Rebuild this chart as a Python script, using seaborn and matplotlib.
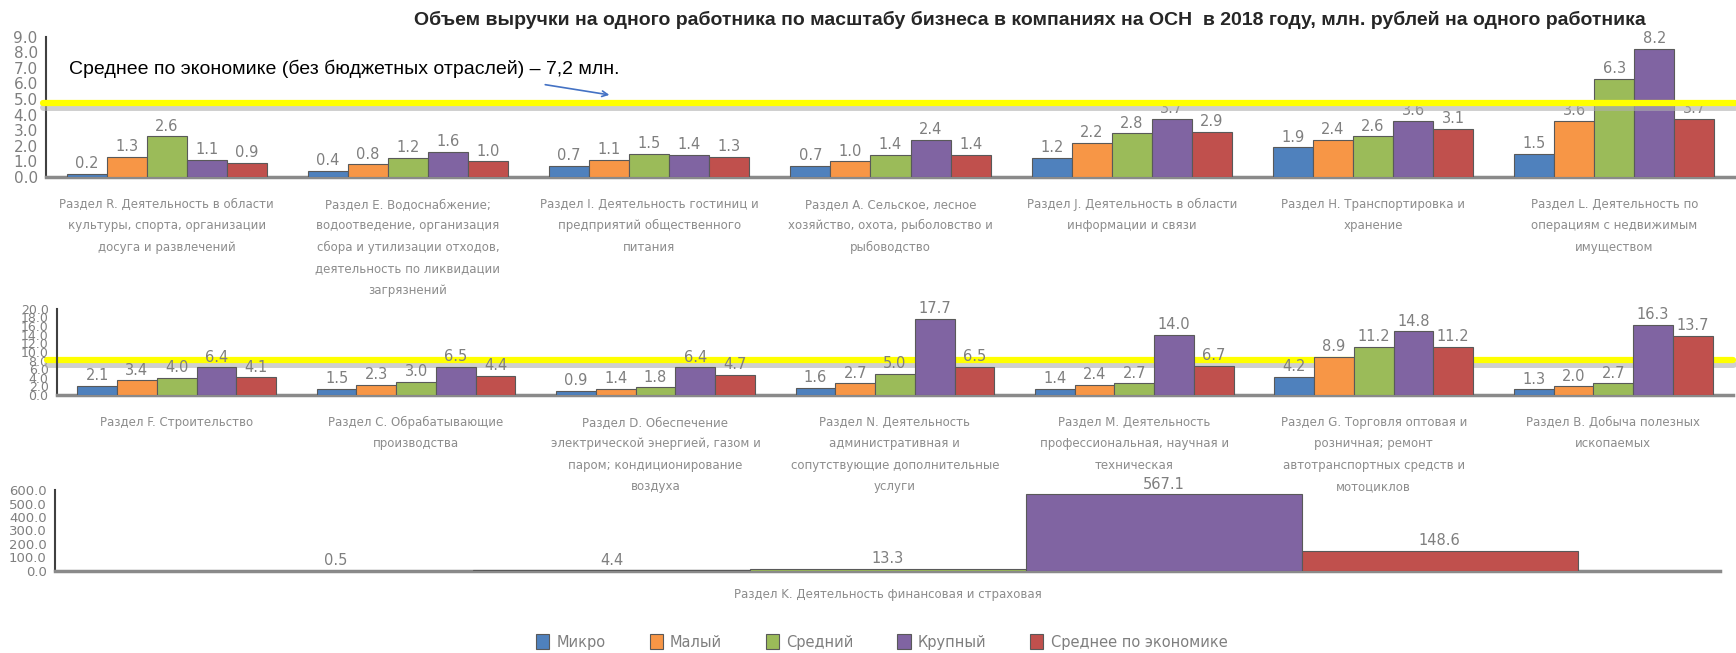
import pandas as pd
import seaborn as sns
import matplotlib.pyplot as plt

sizes = ["Микро", "Малый", "Средний", "Крупный", "Среднее по экономике"]
colors = ["#4F81BD", "#F79646", "#9BBB59", "#8064A2", "#C0504D"]

top_cats = [
    "Раздел R. Деятельность в области\nкультуры, спорта, организации\nдосуга и развлечений",
    "Раздел E. Водоснабжение;\nводоотведение, организация\nсбора и утилизации отходов,\nдеятельность по ликвидации\nзагрязнений",
    "Раздел I. Деятельность гостиниц и\nпредприятий общественного\nпитания",
    "Раздел A. Сельское, лесное\nхозяйство, охота, рыболовство и\nрыбоводство",
    "Раздел J. Деятельность в области\nинформации и связи",
    "Раздел H. Транспортировка и\nхранение",
    "Раздел L. Деятельность по\nоперациям с недвижимым\nимуществом",
]
top_micro = [0.2, 0.4, 0.7, 0.7, 1.2, 1.9, 1.5]
top_small = [1.3, 0.8, 1.1, 1.0, 2.2, 2.4, 3.6]
top_mid = [2.6, 1.2, 1.5, 1.4, 2.8, 2.6, 6.3]
top_large = [1.1, 1.6, 1.4, 2.4, 3.7, 3.6, 8.2]
top_avg = [0.9, 1.0, 1.3, 1.4, 2.9, 3.1, 3.7]

mid_cats = [
    "Раздел F. Строительство",
    "Раздел C. Обрабатывающие\nпроизводства",
    "Раздел D. Обеспечение\nэлектрической энергией, газом и\nпаром; кондиционирование\nвоздуха",
    "Раздел N. Деятельность\nадминистративная и\nсопутствующие дополнительные\nуслуги",
    "Раздел M. Деятельность\nпрофессиональная, научная и\nтехническая",
    "Раздел G. Торговля оптовая и\nрозничная; ремонт\nавтотранспортных средств и\nмотоциклов",
    "Раздел B. Добыча полезных\nископаемых",
]
mid_micro = [2.1, 1.5, 0.9, 1.6, 1.4, 4.2, 1.3]
mid_small = [3.4, 2.3, 1.4, 2.7, 2.4, 8.9, 2.0]
mid_mid = [4.0, 3.0, 1.8, 5.0, 2.7, 11.2, 2.7]
mid_large = [6.4, 6.5, 6.4, 17.7, 14.0, 14.8, 16.3]
mid_avg = [4.1, 4.4, 4.7, 6.5, 6.7, 11.2, 13.7]

fin_cats = ["Раздел K. Деятельность финансовая и страховая"]
fin_micro = [0.5]
fin_small = [4.4]
fin_mid = [13.3]
fin_large = [567.1]
fin_avg = [148.6]

GRAY = "#7f7f7f"
LABEL_GRAY = "#8c8c8c"


def long_table(cats, *series):
    rows = []
    for size, vals in zip(sizes, series):
        for c, v in zip(cats, vals):
            rows.append({"cat": c, "size": size, "val": v})
    return pd.DataFrame(rows)


def draw_panel(ax, df, ymax, ystep, ytick_size, width=0.83, label_pad=15, legend=False):
    sns.barplot(data=df, x="cat", y="val", hue="size", hue_order=sizes,
                palette=colors, width=width, gap=0, edgecolor="#595959",
                linewidth=0.8, saturation=1, legend=legend, ax=ax, zorder=3)
    for cont in ax.containers:
        ax.bar_label(cont, fmt="%.1f", padding=2, fontsize=10.5, color=GRAY)
    n = df["cat"].nunique()
    ax.set_xlim(-0.5, n - 0.5)
    ax.set_ylim(0, ymax)
    ax.set_yticks([i * ystep for i in range(int(round(ymax / ystep)) + 1)])
    ax.yaxis.set_major_formatter(plt.FormatStrFormatter("%.1f"))
    ax.tick_params(axis="y", labelsize=ytick_size, labelcolor=GRAY, color="#404040",
                   length=5, width=1.5, pad=1)
    ax.tick_params(axis="x", length=0, labelsize=8.5, labelcolor=LABEL_GRAY, pad=label_pad)
    ax.set_xticks([i + 0.5 for i in range(n)], minor=True)
    ax.tick_params(axis="x", which="minor", length=7, width=1.5, color="#404040")
    for lab in ax.get_xticklabels():
        lab.set_linespacing(1.85)
    ax.set_xlabel("")
    ax.set_ylabel("")
    sns.despine(ax=ax)
    ax.spines["left"].set_color("#404040")
    ax.spines["left"].set_linewidth(1.5)
    ax.spines["bottom"].set_color("#8a8a8a")
    ax.spines["bottom"].set_linewidth(2.5)
    ax.set_facecolor("none")


sns.set_style("white")
plt.rcParams["font.family"] = ["DejaVu Sans"]

fig = plt.figure(figsize=(17.36, 6.53), dpi=100)
ax1 = fig.add_axes([0.0265, 0.729, 0.9729, 0.215])
ax2 = fig.add_axes([0.0328, 0.395, 0.9654, 0.132])
ax3 = fig.add_axes([0.0317, 0.1256, 0.9591, 0.124])

draw_panel(ax1, long_table(top_cats, top_micro, top_small, top_mid, top_large, top_avg),
           9, 1, 11)
draw_panel(ax2, long_table(mid_cats, mid_micro, mid_small, mid_mid, mid_large, mid_avg),
           20, 2, 9)
draw_panel(ax3, long_table(fin_cats, fin_micro, fin_small, fin_mid, fin_large, fin_avg),
           600, 100, 9.5, width=0.829, label_pad=12, legend=True)

# yellow "average" guide lines with a soft shadow
ax1.axhline(4.5, xmin=-0.002, xmax=1.0, color="#b0b0b0", lw=5, alpha=0.6,
            clip_on=False, zorder=4)
ax1.axhline(4.75, xmin=-0.002, xmax=1.0, color="#ffff00", lw=4.5,
            clip_on=False, zorder=5)
ax2.axhline(7.3, xmin=-0.006, xmax=1.0, color="#b0b0b0", lw=5, alpha=0.6,
            clip_on=False, zorder=1)
ax2.axhline(8.2, xmin=-0.006, xmax=1.0, color="#ffff00", lw=4.5,
            clip_on=False, zorder=2)

ax1.annotate("", xy=(0.3526, 0.854), xytext=(0.3125, 0.871), xycoords="figure fraction",
             arrowprops=dict(arrowstyle="->", color="#4472C4", lw=1.2))
fig.text(0.0395, 0.895, "Среднее по экономике (без бюджетных отраслей) – 7,2 млн.",
         fontsize=14, family="Liberation Sans", color="black", va="center")

fig.text(0.593, 0.969, "Объем выручки на одного работника по масштабу бизнеса в компаниях "
         "на ОСН  в 2018 году, млн. рублей на одного работника",
         fontsize=14, fontweight="bold", family="Liberation Sans", color="#262626",
         ha="center", va="center")

handles, labels = ax3.get_legend_handles_labels()
ax3.get_legend().remove()
fig.legend(handles, labels, loc="center", bbox_to_anchor=(0.508, 0.017), ncol=5,
           frameon=False, fontsize=10.5, labelcolor=GRAY, handlelength=0.9,
           handleheight=1.2, columnspacing=3.0, handletextpad=0.5,
           borderpad=0, borderaxespad=0)

fig.savefig("out.png", dpi=100)
